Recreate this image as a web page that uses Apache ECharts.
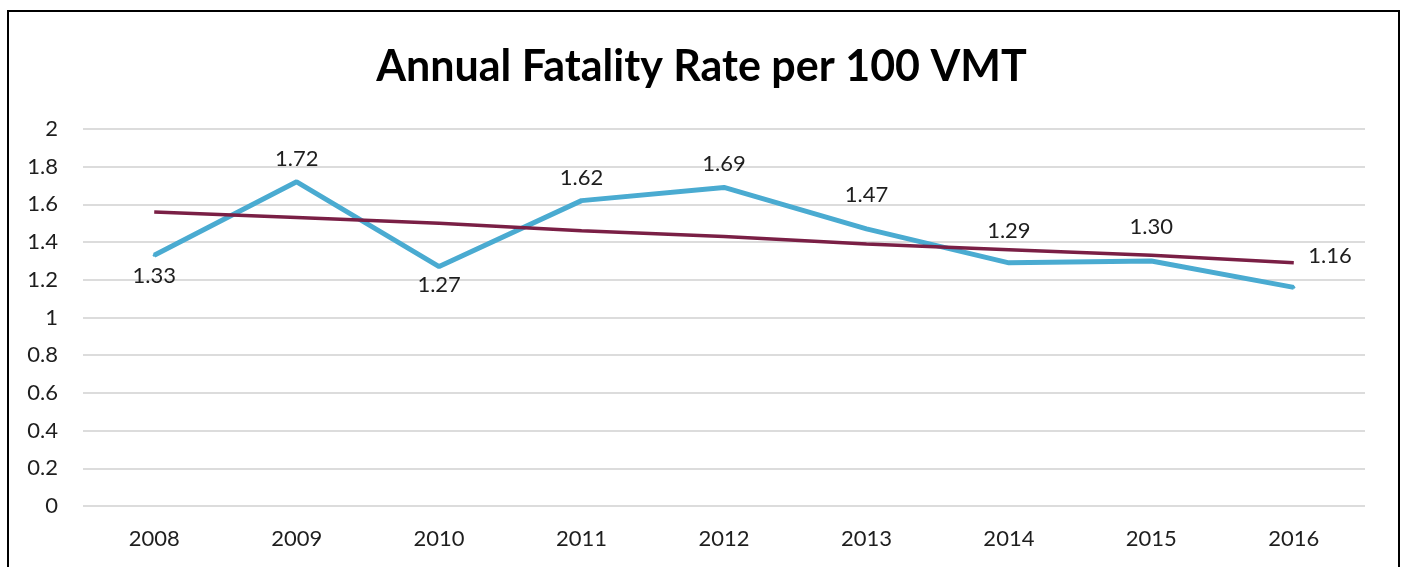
<!DOCTYPE html>
<html>
<head>
<meta charset="utf-8">
<script src="https://cdn.jsdelivr.net/npm/echarts@6/dist/echarts.min.js"></script>
<style>
    html, body { margin: 0; padding: 0; background: #fff; }
    #frame {
        position: absolute; left: 7px; top: 10px; width: 1389px; height: 570px;
        border: 2px solid #000; border-bottom: none;
    }
    #chart { position: absolute; left: 0; top: 0; width: 1403px; height: 567px; }
</style>
</head>
<body>
<div id="frame"></div>
<div id="chart"></div>
<script>
const YEARS = ['2008', '2009', '2010', '2011', '2012', '2013', '2014', '2015', '2016'];
const FATALITY_RATE = [1.33, 1.72, 1.27, 1.62, 1.69, 1.47, 1.29, 1.30, 1.16];
// linear trendline
const TREND = [1.56, 1.53, 1.50, 1.46, 1.43, 1.39, 1.36, 1.33, 1.29];

const FONT = 'Lato, "Open Sans", sans-serif';
const TEXT = '#1e1e1e';
const BLUE = '#4AABD1';

// where each data label sits; a few were nudged by hand in the original
const LABEL_POS = ['bottom', 'top', 'bottom', 'top', 'top', 'top', 'top', 'top', 'right'];
const LABEL_NUDGE = [[0, -2], [0, 0], [0, -4], [0, 0], [0, -1], [0, -11], [0, -9], [0, -12], [3, -31]];

const rateData = FATALITY_RATE.map((v, i) => ({
    value: v,
    label: { position: LABEL_POS[i], offset: LABEL_NUDGE[i] }
}));

const chart = echarts.init(document.getElementById('chart'));
chart.setOption({
    backgroundColor: 'transparent',
    animation: false,
    title: {
        text: 'Annual Fatality Rate per 100 VMT',
        left: 'center',
        top: 41,
        textStyle: { fontFamily: FONT, fontWeight: 'bold', fontSize: 43, color: '#000' }
    },
    grid: { left: 83, right: 38, top: 129, bottom: 61, containLabel: false },
    xAxis: {
        type: 'category',
        data: YEARS,
        boundaryGap: true,
        axisLine: { show: false },
        axisTick: { show: false },
        axisLabel: { color: TEXT, fontFamily: FONT, fontSize: 22, margin: 22 }
    },
    yAxis: {
        type: 'value',
        min: 0,
        max: 2,
        interval: 0.2,
        axisLine: { show: false },
        axisTick: { show: false },
        axisLabel: {
            color: TEXT, fontFamily: FONT, fontSize: 22, margin: 25,
            formatter: v => String(Math.round(v * 10) / 10)
        },
        splitLine: { lineStyle: { color: '#dcdcdc', width: 2 } }
    },
    series: [
        {
            name: 'Fatality rate',
            type: 'line',
            data: rateData,
            symbol: 'circle',
            symbolSize: 3,
            showSymbol: true,
            itemStyle: { color: BLUE },
            lineStyle: { color: BLUE, width: 5 },
            z: 2,
            label: {
                show: true,
                color: TEXT,
                fontFamily: FONT,
                fontSize: 22,
                distance: 10,
                formatter: p => p.value.toFixed(2)
            }
        },
        {
            name: 'Trend',
            type: 'line',
            data: TREND,
            symbol: 'none',
            lineStyle: { color: '#7A1F45', width: 3.5 },
            z: 3
        }
    ]
});
</script>
</body>
</html>
